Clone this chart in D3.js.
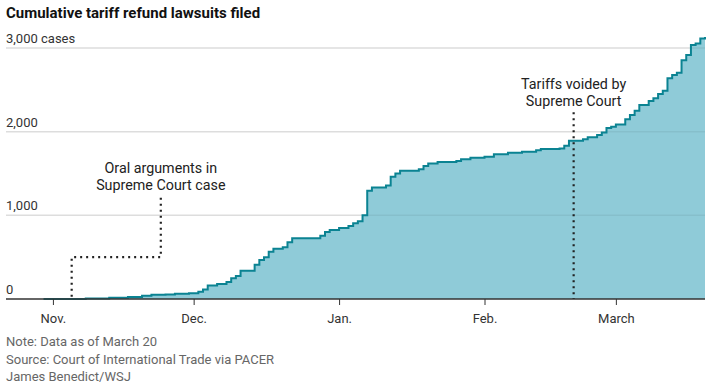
<!DOCTYPE html>
<html>
<head>
<meta charset="utf-8">
<script src="https://cdn.jsdelivr.net/npm/d3@7"></script>
<style>
  body { margin: 0; background: #fff; }
  svg text { font-family: "Liberation Sans Narrow", "Roboto", sans-serif; }
</style>
</head>
<body>
<div id="chart"></div>
<script>
// cumulative cases (step after each date)
var dates = ["2025-10-30","2025-11-08","2025-11-13","2025-11-17","2025-11-20","2025-11-22","2025-11-25","2025-11-27","2025-11-30",
  "2025-12-02","2025-12-03","2025-12-04","2025-12-06","2025-12-08","2025-12-09","2025-12-10","2025-12-11","2025-12-14","2025-12-15",
  "2025-12-16","2025-12-17","2025-12-18","2025-12-20","2025-12-21","2025-12-22","2025-12-28","2025-12-29","2025-12-30","2026-01-01",
  "2026-01-03","2026-01-04","2026-01-05","2026-01-06","2026-01-07","2026-01-08","2026-01-11","2026-01-12","2026-01-13","2026-01-14",
  "2026-01-18","2026-01-19","2026-01-20","2026-01-22","2026-01-26","2026-01-27","2026-01-29","2026-02-01","2026-02-03","2026-02-06",
  "2026-02-09","2026-02-12","2026-02-13","2026-02-17","2026-02-18","2026-02-19","2026-02-22","2026-02-23","2026-02-25","2026-02-26",
  "2026-02-27","2026-02-28","2026-03-01","2026-03-03","2026-03-04","2026-03-05","2026-03-06","2026-03-08","2026-03-09","2026-03-10",
  "2026-03-11","2026-03-12","2026-03-13","2026-03-14","2026-03-15","2026-03-16","2026-03-17","2026-03-18","2026-03-19","2026-03-20"];
var cases = [0,5,15,25,40,50,55,63,70,
  87,115,160,180,203,247,275,338,410,466,
  498,565,601,618,677,725,756,800,824,850,
  872,904,928,1000,1294,1334,1358,1461,1501,1533,
  1550,1589,1621,1637,1649,1669,1688,1700,1729,1748,
  1760,1777,1792,1800,1831,1891,1908,1932,1960,1991,
  2045,2059,2087,2147,2198,2250,2318,2366,2398,2449,
  2489,2637,2676,2704,2855,2915,3035,3055,3115,3130];

var monthTicks = ["2025-11-01","2025-12-01","2026-01-01","2026-02-01","2026-03-01"];
var monthLabels = ["Nov.","Dec.","Jan.","Feb.","March"];
var yTicks = [0, 1000, 2000, 3000];
var yLabels = ["0", "1,000", "2,000", "3,000 cases"];

var notes = [
  {date: "2025-11-05", lines: ["Oral arguments in", "Supreme Court case"], textDate: "2025-11-24", textVal: 1520, elbow: 500},
  {date: "2026-02-20", lines: ["Tariffs voided by", "Supreme Court"], textDate: "2026-02-20", textVal: 2520, elbow: null}
];

var footer = ["Note: Data as of March 20", "Source: Court of International Trade via PACER", "James Benedict/WSJ"];

var parse = d3.timeParse("%Y-%m-%d");
var data = dates.map(function(d, i) { return {date: parse(d), value: cases[i]}; });

var svg = d3.select("#chart").append("svg")
    .attr("width", 714)
    .attr("height", 390),
    margin = {top: 48, right: 9, bottom: 91, left: 6},
    width = 714 - margin.left - margin.right,
    height = 390 - margin.top - margin.bottom;

var x = d3.scaleTime()
    .domain([parse("2025-10-22"), parse("2026-03-20")])
    .range([margin.left, margin.left + width]);
var y = d3.scaleLinear()
    .domain([0, 3000])
    .range([margin.top + height, margin.top]);

svg.append("text")
    .attr("x", 6).attr("y", 18)
    .attr("font-size", 15).attr("font-weight", "bold")
    .attr("fill", "#111")
    .text("Cumulative tariff refund lawsuits filed");

var area = d3.area()
    .curve(d3.curveStepAfter)
    .x(function(d) { return x(d.date); })
    .y0(y(0))
    .y1(function(d) { return y(d.value); });

var line = d3.line()
    .curve(d3.curveStepAfter)
    .x(function(d) { return x(d.date); })
    .y(function(d) { return y(d.value); });

// grid lines under
svg.append("g").selectAll("line")
    .data(yTicks.slice(1))
    .enter().append("line")
    .attr("x1", margin.left).attr("x2", margin.left + width)
    .attr("y1", function(d) { return y(d); })
    .attr("y2", function(d) { return y(d); })
    .attr("stroke", "#ebebeb").attr("stroke-width", 1.5);

svg.append("path")
    .datum(data)
    .attr("d", area)
    .attr("fill", "#8fcbd8");

// faint grid over the area
svg.append("g").selectAll("line")
    .data(yTicks.slice(1))
    .enter().append("line")
    .attr("x1", margin.left).attr("x2", margin.left + width)
    .attr("y1", function(d) { return y(d); })
    .attr("y2", function(d) { return y(d); })
    .attr("stroke", "#000").attr("stroke-opacity", 0.06).attr("stroke-width", 1.5);

svg.append("path")
    .datum(data)
    .attr("d", line)
    .attr("fill", "none")
    .attr("stroke", "#0b8392")
    .attr("stroke-width", 2);

// y labels
svg.append("g").selectAll("text")
    .data(yTicks)
    .enter().append("text")
    .attr("x", 6)
    .attr("y", function(d) { return y(d) - 5; })
    .attr("font-size", 13)
    .attr("fill", "#333")
    .text(function(d, i) { return yLabels[i]; });

// x axis
var xAxis = svg.append("g")
    .attr("transform", "translate(0," + y(0) + ")")
    .call(d3.axisBottom(x)
        .tickValues(monthTicks.map(parse))
        .tickSize(6)
        .tickFormat(function(d, i) { return monthLabels[i]; }));
xAxis.select(".domain").attr("stroke", "#333").attr("stroke-width", 1.5).attr("d", "M" + margin.left + ",0H" + (margin.left + width));
xAxis.selectAll(".tick line").attr("stroke", "#333");
xAxis.selectAll(".tick text")
    .attr("font-family", "Liberation Sans Narrow, Roboto, sans-serif")
    .attr("font-size", 13).attr("fill", "#333").attr("dy", "1.15em");

// annotations
var ann = svg.append("g");
notes.forEach(function(n) {
    var xd = x(parse(n.date)), xt = x(parse(n.textDate));
    var pts;
    if (n.elbow !== null) {
        pts = [[xt, y(n.textVal) + 26], [xt, y(n.elbow)], [xd, y(n.elbow)], [xd, y(0)]];
    } else {
        pts = [[xd, y(n.textVal) + 24], [xd, y(0)]];
    }
    ann.append("path")
        .attr("d", d3.line()(pts))
        .attr("fill", "none")
        .attr("stroke", "#222")
        .attr("stroke-width", 2.2)
        .attr("stroke-dasharray", "2,4");
    n.lines.forEach(function(l, i) {
        ann.append("text")
            .attr("x", xt)
            .attr("y", y(n.textVal) + 1 + i * 17)
            .attr("text-anchor", "middle")
            .attr("font-size", 14.3)
            .attr("fill", "#222")
            .text(l);
    });
});

svg.append("g").selectAll("text")
    .data(footer)
    .enter().append("text")
    .attr("x", 6)
    .attr("y", function(d, i) { return 346 + i * 17.5; })
    .attr("font-size", 13)
    .attr("fill", "#666")
    .text(function(d) { return d; });
</script>
</body>
</html>
